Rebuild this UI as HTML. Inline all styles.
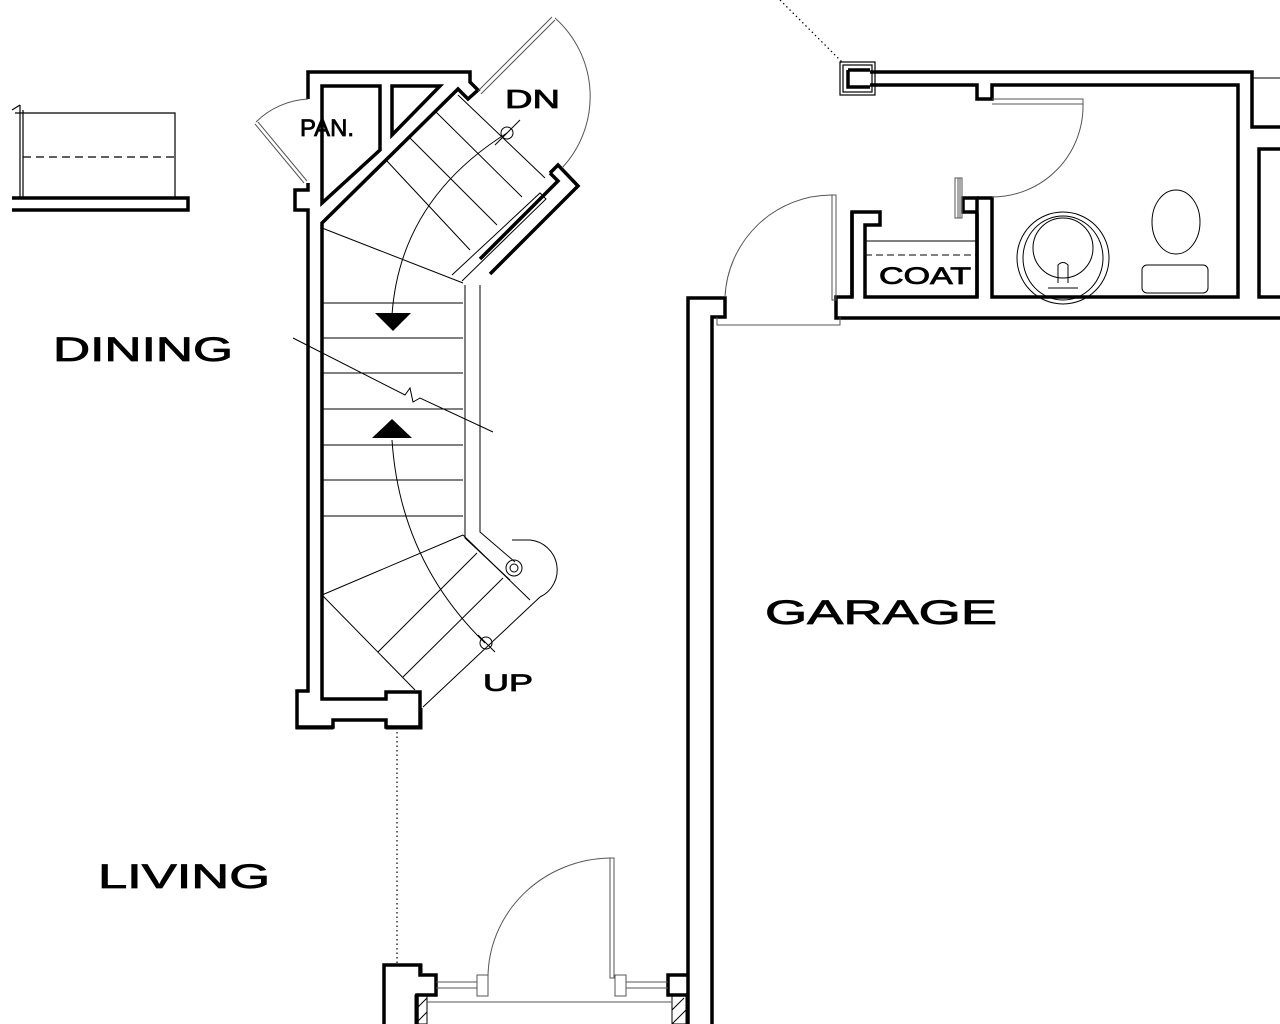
<!DOCTYPE html>
<html><head><meta charset="utf-8"><style>
html,body{margin:0;padding:0;background:#fff;}
svg{display:block;}
text{font-family:"Liberation Sans",sans-serif;fill:#000;stroke:#000;stroke-width:0.8;}
</style></head><body>
<svg width="1280" height="1024" viewBox="0 0 1280 1024" xmlns="http://www.w3.org/2000/svg">
<g fill="none" stroke="#000" stroke-linejoin="miter">
<!-- top-left furniture -->
<g stroke-width="1.2">
<path d="M20,105 V198 M23,110 V198 M15,113 H175 V198"/>
<path d="M23,157 H175" stroke-dasharray="8,5"/>
<path d="M12,110 L20,105"/>
</g>
<path d="M12,198 H188 V210 H12" stroke-width="3.5"/>

<!-- stair walls -->
<g stroke-width="3.5">
<path d="M308,99 V72 H470 V82 L478,90 L468,99 L458,89 L322,223 V699 H386 V692 H420 V727 H386 V720 H333 V727 H297 V691 H308 V210 H295 V190 H308 V183"/>
<path d="M322,86 H380 V150 L322,203 Z"/>
<path d="M392,86 H440 L392,135 Z"/>
<path d="M550,173 L558,165 L578,186 L490,274"/>
<path d="M550,173 L558,181 L480,259"/>
</g>
<path d="M296,690 V729 H333 V722 M386,722 V729 H422 V708" stroke-width="1"/>

<!-- DN door -->
<g stroke="#555" stroke-width="1">
<path d="M478,91 L552,17 M481,94 L555,20"/>
<path d="M555,18 A105,105 0 0 1 562,168"/>
<path d="M307,181 L258,122 M304,183 L255,124"/>
<path d="M256,122 A80,80 0 0 1 308,99"/>
</g>

<!-- stair treads -->
<g stroke-width="1">
<path d="M322,303 H463 M322,338 H463 M322,373 H463 M322,409 H463 M322,445 H463 M322,480 H463 M322,516 H463"/>
<path d="M322,228 L463,283 M322,595 L463,535"/>
<path d="M386,160 L470,250 M410,138 L497,225 M436,112 L522,197 M458,95 L545,178"/>
<path d="M322,595 L415,690 M463,535 L530,600"/>
<path d="M378,652 L477,553 M403,677 L503,578 M423,707 L540,597"/>
<path d="M540,597 A30,30 0 0 0 530,540 L512,540"/>
<path d="M465,285 V538 L510,580 M480,285 V532 L515,562 M452,275 L540,193 L546,199 L462,281"/>
<circle cx="514" cy="568" r="8"/><circle cx="514" cy="568" r="4"/>
<circle cx="507" cy="133" r="6"/><path d="M495,145 L520,120"/>
<circle cx="486" cy="643" r="6"/><path d="M478,635 L495,652"/>
<path d="M507,133 Q400,200 392,315"/>
<path d="M485,643 Q400,560 392,440"/>
<path d="M293,338 L405,395 L410,388 L413,402 L420,398 L493,432"/>
</g>
<path d="M375,313 H411 L393,331 Z M372,438 H412 L392,419 Z" fill="#000" stroke="none"/>

<path d="M780,0 L842,62 M397,732 V965" stroke-width="1.2" stroke-dasharray="1.5,3"/>

<!-- garage wall -->
<g stroke-width="3.5">
<path d="M688,1024 V298 H725 V317 H712 V1024"/>
<path d="M852,212 V297 H836 V318 H1280"/>
</g>
<g stroke="#555" stroke-width="1">
<path d="M832,195 H836 V300 H832 Z"/>
<path d="M725,297 A107,107 0 0 1 832,195"/>
<path d="M717,317 V325 H840 V317"/>
</g>

<!-- bath block -->
<g stroke-width="3.5">
<path d="M852,297 V212 H880 V225 H865 V297 H977 V212 H963 V198 H977 V213"/>
<path d="M977,198 H992 V297 H1238 V85 H992 V99 H977 V85 H870 M870,72 H1252 V127 H1280"/>
<path d="M1280,149 H1259 V297 H1280"/>
<path d="M977,213 V297"/>
</g>
<g stroke-width="1.2">
<rect x="840" y="62" width="35" height="33"/>
<rect x="843" y="65" width="29" height="27"/>
</g>
<path d="M848,70 V87 H870 M848,70 H870" stroke-width="3.5"/>
<path d="M1252,78 H1280" stroke-width="1"/>
<g stroke="#555" stroke-width="1">
<path d="M992,99 H1083 V104 H992"/>
<path d="M1083,104 A91,91 0 0 1 992,197"/>
<rect x="955" y="178" width="5" height="40"/><rect x="958" y="178" width="4" height="40"/>
</g>
<g stroke-width="1">
<path d="M865,241 H977"/>
<path d="M865,255 H977" stroke-dasharray="7,4"/>
<ellipse cx="1063" cy="258" rx="46" ry="46"/>
<ellipse cx="1063" cy="258" rx="40" ry="42"/>
<ellipse cx="1063" cy="248" rx="30" ry="30"/>
<path d="M1058,283 V265 Q1063,260 1068,265 V283 M1048,288 H1078"/>
<ellipse cx="1176" cy="222" rx="24" ry="32"/>
<rect x="1142" y="265" width="66" height="28" rx="5"/>
</g>

<!-- bottom door -->
<g stroke-width="3.5">
<path d="M384,1024 V965 H420 V975 H436 V995 H417 V1024"/>
<path d="M688,975 H668 V995 H688"/>
</g>
<g stroke-width="1">
<path d="M383,964 H422 V973 M383,964 V1000"/>
<rect x="415" y="995" width="12" height="29"/>
<rect x="672" y="995" width="14" height="29"/>
<path d="M415,1010 L427,998 M415,1024 L427,1012 M672,1010 L684,998 M672,1024 L686,1010"/>
</g>
<g stroke="#555" stroke-width="1">
<path d="M436,982 H477 M436,988 H477 M626,982 H668 M626,988 H668"/>
<rect x="477" y="975" width="11" height="21"/><rect x="615" y="975" width="11" height="21"/>
<path d="M610,858 H614 V978 H610 Z"/>
<path d="M488,978 A124,120 0 0 1 610,858"/>
<path d="M427,1002 H672"/>
</g>
</g>

<g font-size="34">
<text x="53" y="361" textLength="180" lengthAdjust="spacingAndGlyphs">DINING</text>
<text x="765" y="624" textLength="232" lengthAdjust="spacingAndGlyphs">GARAGE</text>
<text x="98" y="888" textLength="172" lengthAdjust="spacingAndGlyphs">LIVING</text>
</g>
<text x="505" y="108" font-size="26" textLength="55" lengthAdjust="spacingAndGlyphs">DN</text>
<text x="300" y="136" font-size="24" textLength="54" lengthAdjust="spacingAndGlyphs">PAN.</text>
<text x="483" y="691" font-size="24" textLength="50" lengthAdjust="spacingAndGlyphs">UP</text>
<text x="879" y="284" font-size="24" textLength="92" lengthAdjust="spacingAndGlyphs">COAT</text>
</svg>
</body></html>
